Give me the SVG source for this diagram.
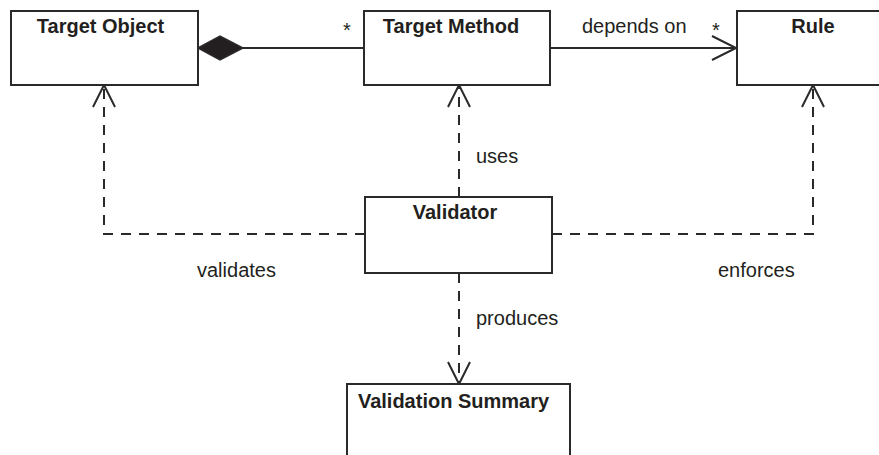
<svg xmlns="http://www.w3.org/2000/svg" width="879" height="455" viewBox="0 0 879 455">
<style>
.box{fill:#fff;stroke:#2a2a2a;stroke-width:2}
.title{font-family:"Liberation Sans",Arial,sans-serif;font-weight:bold;font-size:20px;fill:#231f20;text-anchor:middle}
.lbl{font-family:"Liberation Sans",Arial,sans-serif;font-size:20px;fill:#231f20}
.solid{fill:none;stroke:#2a2a2a;stroke-width:2}
.dash{fill:none;stroke:#2a2a2a;stroke-width:2;stroke-dasharray:10 8}
.head{fill:none;stroke:#2a2a2a;stroke-width:2}
</style>
<rect width="879" height="455" fill="#fff"/>
<g id="connectors">
  <path class="solid" d="M243 48 H364"/>
  <polygon points="198,48 220,36 243,48 220,60" fill="#231f20" stroke="#2a2a2a" stroke-width="1.5"/>
  <path class="solid" d="M550 48 H736"/>
  <path class="head" d="M712 36 L736 48 L712 60"/>
  <path class="dash" d="M459 197 V86"/>
  <path class="head" d="M448 107 L459 85 L470 107"/>
  <path class="dash" d="M365 234 H104 V86"/>
  <path class="head" d="M93 107 L104 85 L115 107"/>
  <path class="dash" d="M552 234 H813 V86"/>
  <path class="head" d="M802 107 L813 85 L824 107"/>
  <path class="dash" d="M459 273 V383"/>
  <path class="head" d="M448 362 L459 384 L470 362"/>
  <text class="lbl" x="343" y="37">*</text>
  <text class="lbl" x="582" y="33">depends on</text>
  <text class="lbl" x="712" y="37">*</text>
  <text class="lbl" x="476" y="163">uses</text>
  <text class="lbl" x="197" y="277">validates</text>
  <text class="lbl" x="718" y="277">enforces</text>
  <text class="lbl" x="476" y="325">produces</text>
</g>
<g id="target-object">
  <rect class="box" x="11" y="11" width="187" height="74"/>
  <text class="title" x="100.5" y="33">Target Object</text>
</g>
<g id="target-method">
  <rect class="box" x="364" y="11" width="186" height="74"/>
  <text class="title" x="451" y="33">Target Method</text>
</g>
<g id="rule">
  <rect class="box" x="737" y="11" width="160" height="74"/>
  <text class="title" x="813" y="33">Rule</text>
</g>
<g id="validator">
  <rect class="box" x="365" y="197" width="187" height="76"/>
  <text class="title" x="455" y="219">Validator</text>
</g>
<g id="validation-summary">
  <rect class="box" x="347" y="384" width="223" height="90"/>
  <text class="title" x="453.5" y="408">Validation Summary</text>
</g>
</svg>
